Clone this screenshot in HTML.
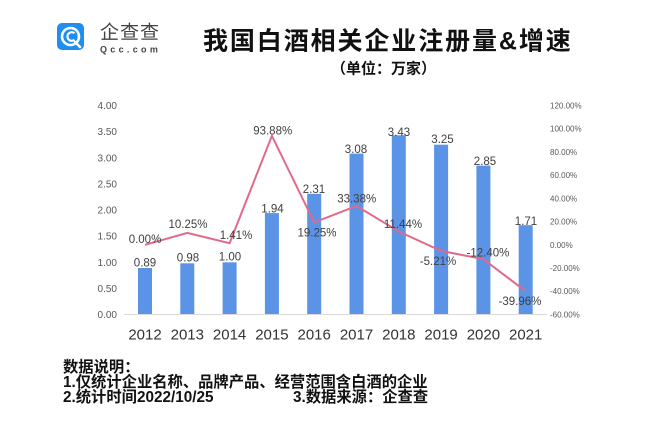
<!DOCTYPE html>
<html><head><meta charset="utf-8">
<style>
html,body{margin:0;padding:0;background:#fff;}
svg{display:block;}
text{font-family:"Liberation Sans","Noto Sans CJK SC",sans-serif;}
</style></head>
<body>
<svg width="660" height="433" viewBox="0 0 660 433" xmlns="http://www.w3.org/2000/svg">
<rect width="660" height="433" fill="#fff"/>
<!-- logo -->
<rect x="57" y="23" width="27" height="27" rx="5" fill="#1E8EF0"/>
<circle cx="70.5" cy="36.5" r="8.5" fill="none" stroke="#fff" stroke-width="2.6"/>
<path d="M74.5 33.2 A4.3 4.3 0 1 0 74.5 39.8" fill="none" stroke="#fff" stroke-width="2.2"/>
<path d="M75 42 L80 47" stroke="#fff" stroke-width="2.6" stroke-linecap="round"/>
<text x="100" y="38.5" font-size="19" fill="#444" letter-spacing="1">企查查</text>
<text x="100" y="52.5" font-size="9" font-weight="bold" fill="#444" letter-spacing="3.3">Qcc.com</text>
<!-- title -->
<text x="203" y="49.5" font-size="25" font-weight="bold" fill="#111" letter-spacing="1.9">我国白酒相关企业注册量&amp;增速</text>
<text x="331" y="73.5" font-size="15" font-weight="bold" fill="#111">（单位：万家）</text>
<!-- left axis labels -->
<g font-size="10" fill="#595959" text-anchor="end">
<text x="117" y="109">4.00</text>
<text x="117" y="135">3.50</text>
<text x="117" y="161.3">3.00</text>
<text x="117" y="187.5">2.50</text>
<text x="117" y="213.6">2.00</text>
<text x="117" y="239.7">1.50</text>
<text x="117" y="265.9">1.00</text>
<text x="117" y="292">0.50</text>
<text x="117" y="318">0.00</text>
</g>
<!-- right axis labels -->
<g font-size="8" fill="#595959">
<text x="550" y="108.5">120.00%</text>
<text x="550" y="131.7">100.00%</text>
<text x="550" y="154.9">80.00%</text>
<text x="550" y="178.1">60.00%</text>
<text x="550" y="201.4">40.00%</text>
<text x="550" y="224.6">20.00%</text>
<text x="550" y="247.8">0.00%</text>
<text x="550" y="271">-20.00%</text>
<text x="550" y="294.2">-40.00%</text>
<text x="550" y="317.5">-60.00%</text>
</g>
<!-- bars -->
<g fill="#5B93E6">
<rect x="138" y="268" width="14" height="46.5"/>
<rect x="180.3" y="263.3" width="14" height="51.2"/>
<rect x="222.6" y="262.3" width="14" height="52.2"/>
<rect x="264.9" y="213.1" width="14" height="101.4"/>
<rect x="307.2" y="193.8" width="14" height="120.7"/>
<rect x="349.5" y="153.6" width="14" height="160.9"/>
<rect x="391.8" y="135.3" width="14" height="179.2"/>
<rect x="434.1" y="144.7" width="14" height="169.8"/>
<rect x="476.4" y="165.6" width="14" height="148.9"/>
<rect x="518.7" y="225.2" width="14" height="89.3"/>
</g>
<line x1="124" y1="314.5" x2="547" y2="314.5" stroke="#D9D9D9" stroke-width="1"/>
<!-- line -->
<polyline points="145,244.8 187.3,232.9 229.6,243.2 271.9,135.8 314.2,222.4 356.5,206 398.8,231.5 441.1,250.9 483.4,259.2 525.7,291.2" fill="none" stroke="#E06A88" stroke-width="2" stroke-linejoin="miter"/>
<!-- bar labels -->
<g font-size="11.5" fill="#404040" text-anchor="middle">
<text x="145" y="266.5">0.89</text>
<text x="188" y="261.5">0.98</text>
<text x="230" y="260.5">1.00</text>
<text x="272.5" y="212.5">1.94</text>
<text x="314" y="192.8">2.31</text>
<text x="356" y="152.8">3.08</text>
<text x="399" y="135.8">3.43</text>
<text x="442.5" y="143">3.25</text>
<text x="485" y="164.8">2.85</text>
<text x="526" y="224.8">1.71</text>
</g>
<!-- pct labels -->
<g font-size="11.5" fill="#404040" text-anchor="middle">
<text x="145" y="243">0.00%</text>
<text x="188" y="228">10.25%</text>
<text x="236" y="239">1.41%</text>
<text x="272.7" y="134.5">93.88%</text>
<text x="317" y="236.5">19.25%</text>
<text x="356.7" y="202.5">33.38%</text>
<text x="403" y="228">11.44%</text>
<text x="438" y="265">-5.21%</text>
<text x="488" y="256.5">-12.40%</text>
<text x="520" y="305">-39.96%</text>
</g>
<!-- years -->
<g font-size="15" fill="#333" text-anchor="middle">
<text x="145" y="339.5">2012</text>
<text x="187.3" y="339.5">2013</text>
<text x="229.6" y="339.5">2014</text>
<text x="271.9" y="339.5">2015</text>
<text x="314.2" y="339.5">2016</text>
<text x="356.5" y="339.5">2017</text>
<text x="398.8" y="339.5">2018</text>
<text x="441.1" y="339.5">2019</text>
<text x="483.4" y="339.5">2020</text>
<text x="525.7" y="339.5">2021</text>
</g>
<!-- notes -->
<g font-size="15.3" font-weight="bold" fill="#111">
<text x="63" y="372">数据说明：</text>
<text x="63" y="387">1.仅统计企业名称、品牌产品、经营范围含白酒的企业</text>
<text x="63" y="402">2.统计时间2022/10/25</text>
<text x="293" y="402">3.数据来源：企查查</text>
</g>
</svg>
</body></html>
